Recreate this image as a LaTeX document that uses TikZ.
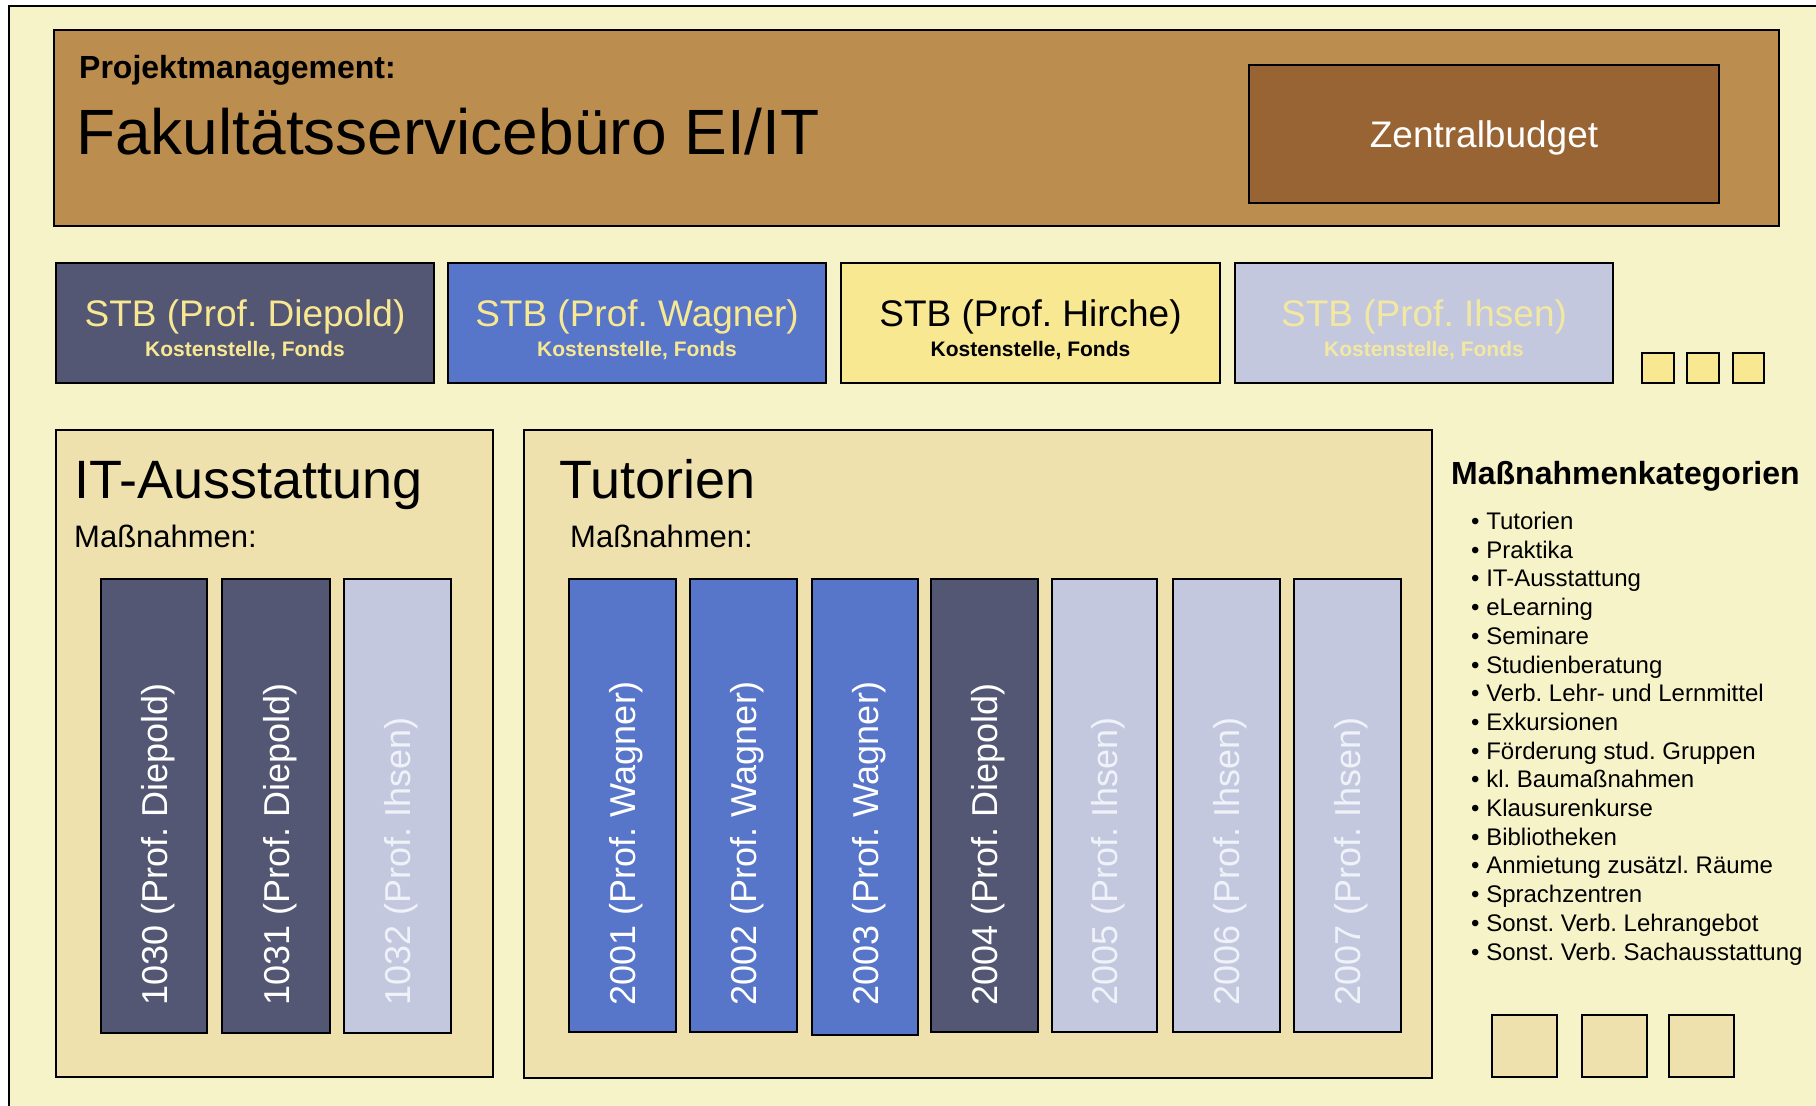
\documentclass[tikz,border=0pt]{standalone}
\usepackage{fontspec}
\setmainfont{Liberation Sans}
\definecolor{bgc}{HTML}{F6F3C9}
\definecolor{topc}{HTML}{BB8D4E}
\definecolor{zbc}{HTML}{986434}
\definecolor{diep}{HTML}{535774}
\definecolor{wagn}{HTML}{5775C9}
\definecolor{hirc}{HTML}{F8E892}
\definecolor{ihsn}{HTML}{C3C8DF}
\definecolor{catc}{HTML}{EEE1AE}
\definecolor{ytxt}{HTML}{F8E892}
\definecolor{iytxt}{HTML}{F2E8A2}
\definecolor{wtxt}{HTML}{FFFFFF}
\definecolor{lwtxt}{HTML}{F0F2F9}
\newcommand{\myfs}[1]{\fontsize{#1}{#1}\selectfont}
\newcommand{\rbox}[6]{\node[box,fill=#6,minimum width={#4-#2},minimum height={#5-#3}] (#1) at (#2,#3) {};}
\newcommand{\massbar}[7]{%
  \node[box,fill=#4,minimum width={#3-#2},minimum height={#7-579}] (#1) at (#2,579) {};
  \node[rotate=90,anchor=west,font=\myfs{36},text=#5,inner sep=0pt] (#1t) at ({(#2+#3)/2+4},1006) {#6};}
\begin{document}
\frenchspacing
\begin{tikzpicture}[x=1pt,y=-1pt,
  box/.style={draw=black,line width=1.8pt,inner sep=0pt,outer sep=0pt,anchor=north west}]
\useasboundingbox (0,0) rectangle (1816,1106);
\begin{scope}
\clip (0,0) rectangle (1816,1106);
\draw[fill=bgc,line width=2pt] (9,6) rectangle (1840,1130);
\end{scope}
% top
\rbox{top}{54}{30}{1779}{226}{topc}
\rbox{zb}{1249}{65}{1719}{203}{zbc}
\node[anchor=base west,font=\bfseries\myfs{32},inner sep=0pt] (pm) at (79,78) {Projektmanagement:};
\node[anchor=base west,font=\myfs{64},inner sep=0pt] (fsb) at (76,154) {Fakultätsservicebüro EI/IT};
\node[anchor=base,font=\myfs{37},text=white,inner sep=0pt] (zbt) at (zb.center |- 0,147) {Zentralbudget};
% STB
\rbox{stbD}{56}{263}{434}{383}{diep}
\rbox{stbW}{448}{263}{826}{383}{wagn}
\rbox{stbH}{841}{263}{1220}{383}{hirc}
\rbox{stbI}{1235}{263}{1613}{383}{ihsn}
\node[anchor=base,font=\myfs{37},text=ytxt,inner sep=0pt] (stbDt) at (stbD.center |- 0,326) {STB (Prof. Diepold)};
\node[anchor=base,font=\bfseries\myfs{21},text=ytxt,inner sep=0pt] (stbDk) at (stbD.center |- 0,356) {Kostenstelle, Fonds};
\node[anchor=base,font=\myfs{37},text=ytxt,inner sep=0pt] (stbWt) at (stbW.center |- 0,326) {STB (Prof. Wagner)};
\node[anchor=base,font=\bfseries\myfs{21},text=ytxt,inner sep=0pt] (stbWk) at (stbW.center |- 0,356) {Kostenstelle, Fonds};
\node[anchor=base,font=\myfs{37},text=black,inner sep=0pt] (stbHt) at (stbH.center |- 0,326) {STB (Prof. Hirche)};
\node[anchor=base,font=\bfseries\myfs{21},text=black,inner sep=0pt] (stbHk) at (stbH.center |- 0,356) {Kostenstelle, Fonds};
\node[anchor=base,font=\myfs{37},text=iytxt,inner sep=0pt] (stbIt) at (stbI.center |- 0,326) {STB (Prof. Ihsen)};
\node[anchor=base,font=\bfseries\myfs{21},text=iytxt,inner sep=0pt] (stbIk) at (stbI.center |- 0,356) {Kostenstelle, Fonds};
\rbox{sq1}{1642}{353}{1674}{383}{hirc}
\rbox{sq2}{1687}{353}{1719}{383}{hirc}
\rbox{sq3}{1733}{353}{1764}{383}{hirc}
% IT-Ausstattung
\rbox{itb}{56}{430}{493}{1077}{catc}
\node[anchor=base west,font=\myfs{54},inner sep=0pt] (itt) at (74,498) {IT-Ausstattung};
\node[anchor=base west,font=\myfs{31},inner sep=0pt] (itm) at (74,547) {Maßnahmen:};
\massbar{b1030}{101}{207}{diep}{wtxt}{1030 (Prof. Diepold)}{1033}
\massbar{b1031}{222}{330}{diep}{wtxt}{1031 (Prof. Diepold)}{1033}
\massbar{b1032}{344}{451}{ihsn}{lwtxt}{1032 (Prof. Ihsen)}{1033}
% Tutorien
\rbox{tub}{524}{430}{1432}{1078}{catc}
\node[anchor=base west,font=\myfs{54},inner sep=0pt] (tut) at (559,498) {Tutorien};
\node[anchor=base west,font=\myfs{31},inner sep=0pt] (tum) at (570,547) {Maßnahmen:};
\massbar{b2001}{569}{676}{wagn}{wtxt}{2001 (Prof. Wagner)}{1032}
\massbar{b2002}{690}{797}{wagn}{wtxt}{2002 (Prof. Wagner)}{1032}
\massbar{b2003}{812}{918}{wagn}{wtxt}{2003 (Prof. Wagner)}{1035}
\massbar{b2004}{931}{1038}{diep}{wtxt}{2004 (Prof. Diepold)}{1032}
\massbar{b2005}{1052}{1157}{ihsn}{lwtxt}{2005 (Prof. Ihsen)}{1032}
\massbar{b2006}{1173}{1280}{ihsn}{lwtxt}{2006 (Prof. Ihsen)}{1032}
\massbar{b2007}{1294}{1401}{ihsn}{lwtxt}{2007 (Prof. Ihsen)}{1032}
% categories
\node[anchor=base west,font=\bfseries\myfs{32},inner sep=0pt] (mk) at (1451,484) {Maßnahmenkategorien};
\foreach [count=\i from 0] \t in {Tutorien,Praktika,IT-Ausstattung,eLearning,Seminare,Studienberatung,Verb. Lehr- und Lernmittel,Exkursionen,Förderung stud. Gruppen,kl. Baumaßnahmen,Klausurenkurse,Bibliotheken,Anmietung zusätzl. Räume,Sprachzentren,Sonst. Verb. Lehrangebot,Sonst. Verb. Sachausstattung}
  \node[anchor=base west,font=\myfs{24},inner sep=0pt] (li\i) at (1471,{529.5+28.7*\i}) {\textbullet\ \t};
\rbox{bq1}{1492}{1015}{1557}{1077}{catc}
\rbox{bq2}{1582}{1015}{1647}{1077}{catc}
\rbox{bq3}{1669}{1015}{1734}{1077}{catc}
\end{tikzpicture}
\end{document}
